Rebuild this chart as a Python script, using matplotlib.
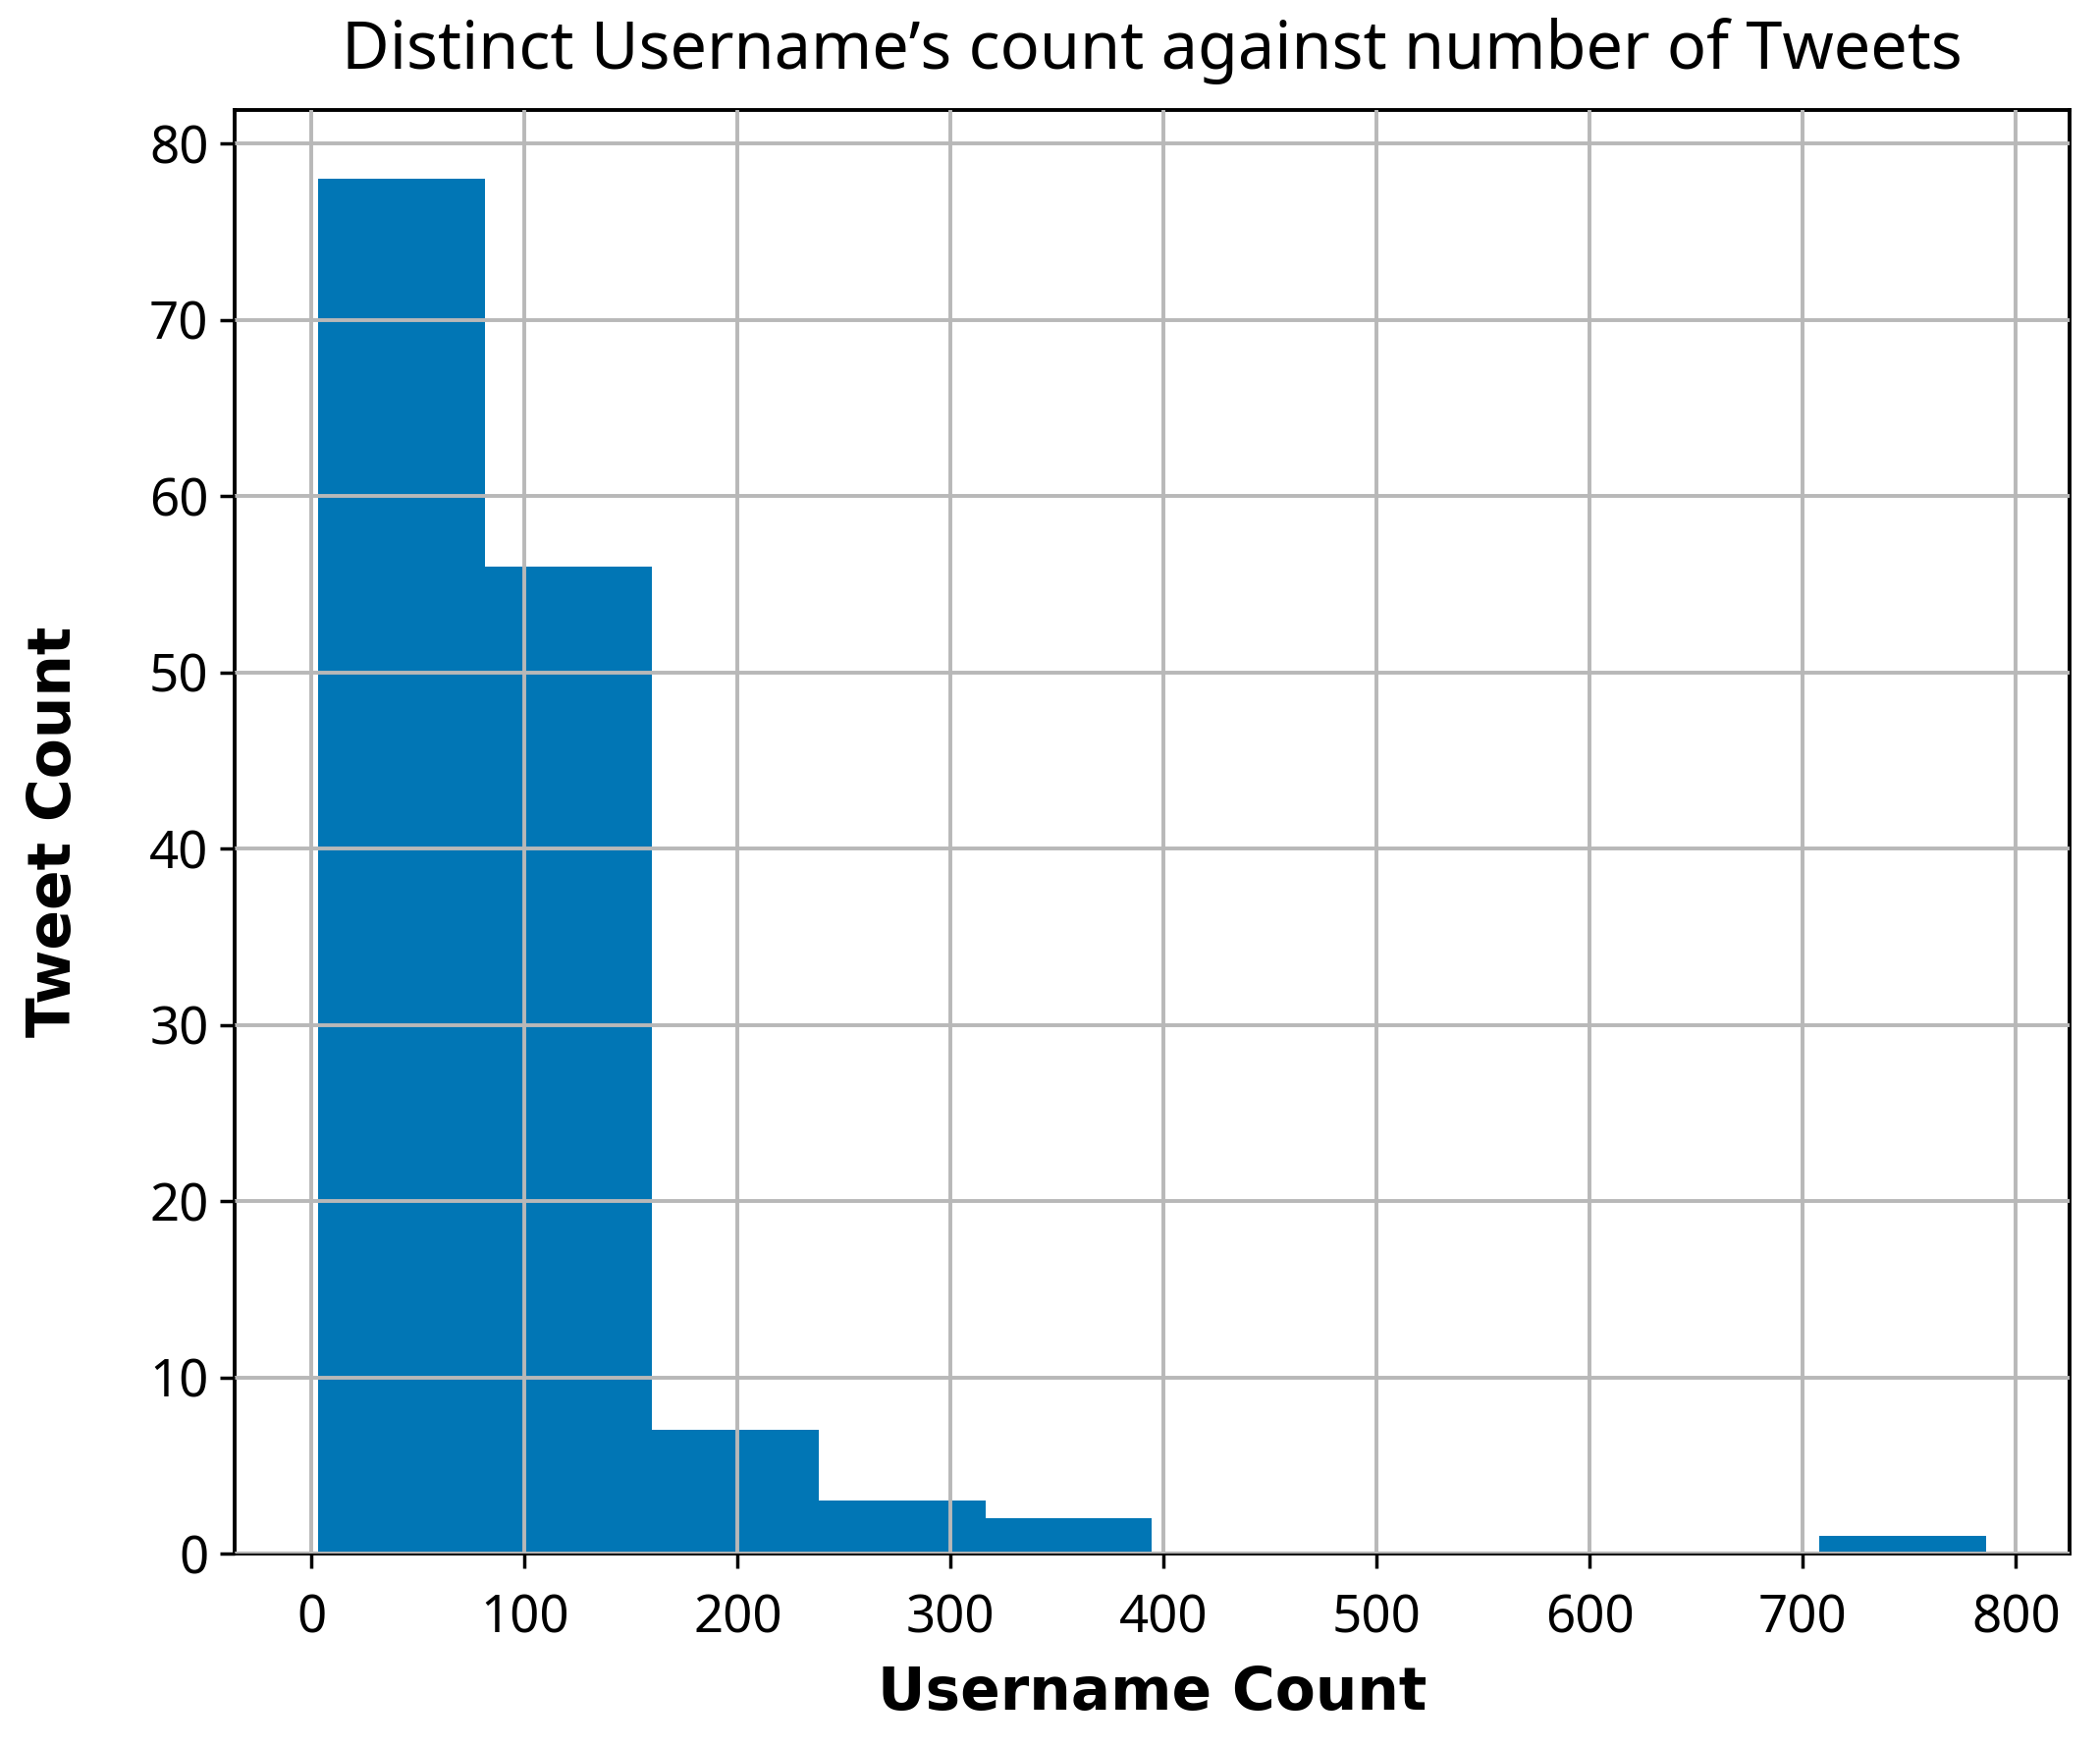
import matplotlib
matplotlib.use('Agg')
import matplotlib.pyplot as plt
import numpy as np

# histogram counts (10 equal bins over the data range)
data_min = 3
data_max = 786
counts = [78, 56, 7, 3, 2, 0, 0, 0, 0, 1]
x_ticks = [0, 100, 200, 300, 400, 500, 600, 700, 800]
y_ticks = [0, 10, 20, 30, 40, 50, 60, 70, 80]

bin_edges = np.linspace(data_min, data_max, len(counts) + 1)

plt.rcParams['font.family'] = ['Noto Sans', 'DejaVu Sans']

fig = plt.figure(figsize=(21.39, 17.79), dpi=100)
ax = fig.add_subplot(111)
fig.subplots_adjust(left=0.1117, right=0.9855, bottom=0.1107, top=0.937)

ax.hist(bin_edges[:-1], bins=bin_edges, weights=counts, color='#0176b5', zorder=2)

ax.set_xticks(x_ticks)
ax.set_yticks(y_ticks)
ax.grid(True, color='#b8b8b8', linewidth=2.8, zorder=3)
ax.set_axisbelow(False)

ax.tick_params(axis='both', labelsize=38, length=11, width=2.5)
ax.tick_params(axis='x', pad=18)
ax.tick_params(axis='y', pad=8)
for s in ax.spines.values():
    s.set_linewidth(2.8)

ax.set_title("Distinct Username’s count against number of Tweets", fontsize=48, pad=30)
ax.set_xlabel('Username Count', fontsize=43, fontweight='bold', family='DejaVu Sans', labelpad=14)
ax.set_ylabel('Tweet Count', fontsize=43, fontweight='bold', family='DejaVu Sans', labelpad=48)

fig.savefig('out.png', dpi=100)
